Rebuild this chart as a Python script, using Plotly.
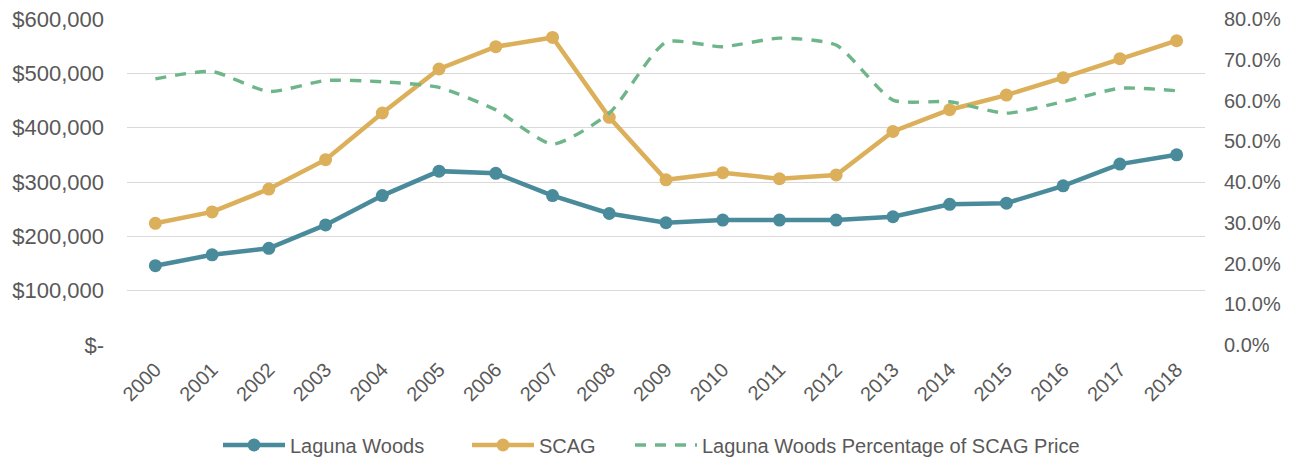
import plotly.graph_objects as go

years = [str(y) for y in range(2000, 2019)]
laguna_woods = [146000, 166000, 178000, 221000, 275000, 320000, 316000, 275000, 242000, 225000,
                230000, 230000, 230000, 236000, 259000, 261000, 293000, 333000, 350000]
scag = [224000, 245000, 287000, 341000, 427000, 508000, 549000, 566000, 419000, 304000,
        317000, 306000, 313000, 393000, 433000, 460000, 492000, 527000, 560000]
pct_of_scag = [0.653, 0.671, 0.622, 0.649, 0.646, 0.632, 0.577, 0.493, 0.569, 0.743,
               0.732, 0.753, 0.736, 0.601, 0.597, 0.569, 0.597, 0.630, 0.624]

left_ticks = [0, 100000, 200000, 300000, 400000, 500000, 600000]
left_labels = ["$-", "$100,000", "$200,000", "$300,000", "$400,000", "$500,000", "$600,000"]
right_ticks = [0, 0.1, 0.2, 0.3, 0.4, 0.5, 0.6, 0.7, 0.8]

TEAL = "#4a8b9b"
GOLD = "#dcb05a"
GREEN = "#6fb58a"
FONT = "Liberation Sans, Arial, sans-serif"
TXT = "#595959"
W, H = 1294, 460

x_idx = list(range(len(years)))

fig = go.Figure()
fig.add_trace(go.Scatter(
    x=x_idx, y=laguna_woods, name="Laguna Woods", mode="lines+markers",
    line=dict(color=TEAL, width=4.5), marker=dict(color=TEAL, size=13),
    legend="legend",
))
fig.add_trace(go.Scatter(
    x=x_idx, y=scag, name="SCAG", mode="lines+markers",
    line=dict(color=GOLD, width=4.5), marker=dict(color=GOLD, size=13),
    legend="legend2",
))
fig.add_trace(go.Scatter(
    x=x_idx, y=pct_of_scag, name="Laguna Woods Percentage of SCAG Price", mode="lines",
    line=dict(color=GREEN, width=3.4, dash="11px,9px", shape="spline", smoothing=0.6),
    yaxis="y2", legend="legend3",
))

leg_common = dict(orientation="h", yref="container", y=(H - 445) / H, yanchor="middle",
                  xref="container", xanchor="left", itemwidth=62,
                  font=dict(family=FONT, size=20, color=TXT), bgcolor="rgba(0,0,0,0)")

fig.update_layout(
    width=W, height=H,
    margin=dict(l=127, r=89, t=19, b=115, autoexpand=False),
    paper_bgcolor="white", plot_bgcolor="white",
    font=dict(family=FONT, size=21, color=TXT),
    showlegend=True,
    legend=dict(leg_common, x=(223 - 5) / W),
    legend2=dict(leg_common, x=(470 - 3) / W),
    legend3=dict(leg_common, x=(633 - 3) / W),
    xaxis=dict(
        range=[-0.5, len(years) - 0.5], tickmode="array", tickvals=x_idx, ticktext=years,
        tickangle=-45, showgrid=False, zeroline=False, showline=False, ticks="",
        tickfont=dict(size=20, color=TXT), automargin=False, ticklabelstandoff=8,
    ),
    yaxis=dict(
        range=[0, 600000], tickmode="array", tickvals=left_ticks, ticktext=left_labels,
        showgrid=True, gridcolor="#d9d9d9", gridwidth=1.3, zeroline=False, showline=False,
        ticks="", tickfont=dict(size=22, color=TXT), ticklabelstandoff=22, automargin=False,
    ),
    yaxis2=dict(
        range=[0, 0.8], tickmode="array", tickvals=right_ticks, tickformat=".1%",
        overlaying="y", side="right", showgrid=False, zeroline=False, showline=False,
        ticks="", tickfont=dict(size=20, color=TXT), ticklabelstandoff=18, automargin=False,
    ),
)

fig.write_html("out.html", config={"displayModeBar": False},
               post_script="document.body.style.margin='0';")
